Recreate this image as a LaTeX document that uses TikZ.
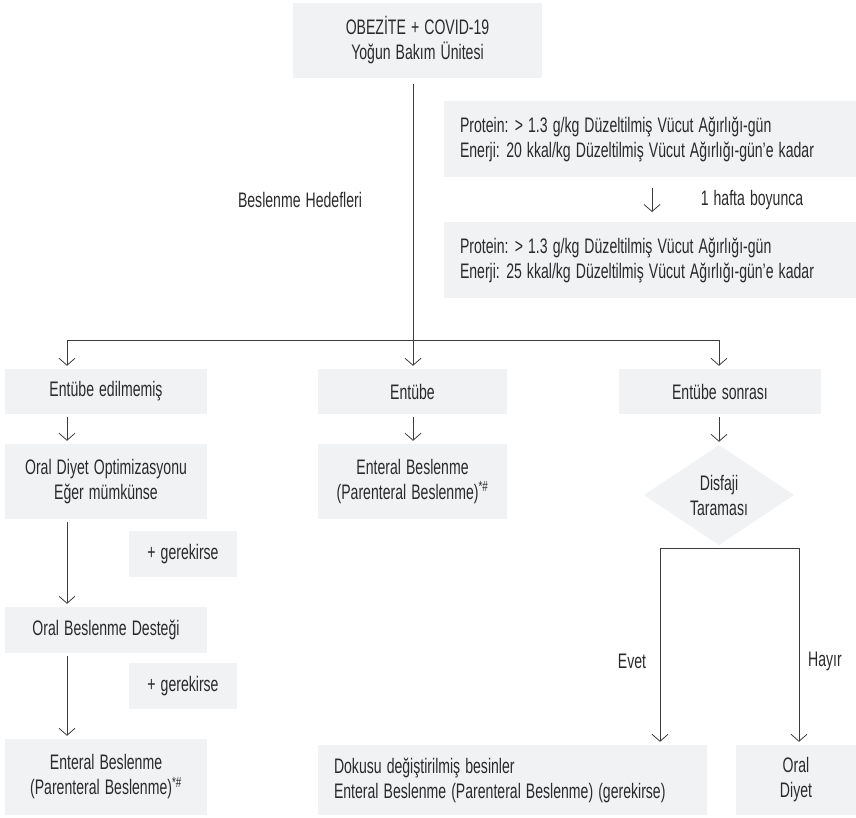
\documentclass[tikz,border=0pt]{standalone}
\usepackage{fontspec}
\setmainfont{Liberation Sans}[FakeStretch=0.67,WordSpace=1.3]
\usetikzlibrary{arrows.meta,shapes.geometric}
\definecolor{boxgray}{HTML}{F1F2F4}
\definecolor{linegray}{HTML}{3C3C3C}
\definecolor{textgray}{HTML}{2A2A2A}

\tikzset{
	box/.style={fill=boxgray, inner sep=0pt, align=center,
		font=\fontsize{21}{25}\selectfont, text=textgray},
	leftbox/.style={box, align=flush left, inner xsep=16pt},
	cond/.style={diamond, fill=boxgray, inner sep=0pt, align=center,
		minimum width=150pt, minimum height=100pt,
		font=\fontsize{21}{25}\selectfont, text=textgray},
	lbl/.style={font=\fontsize{21}{25}\selectfont, text=textgray},
	conn/.style={draw=linegray, line width=0.8pt},
	arr/.style={conn, -{Straight Barb[length=7pt,width=16pt]}, shorten >=3pt},
}

\begin{document}
\begin{tikzpicture}[x=1pt,y=-1pt]
	\useasboundingbox (0,0) rectangle (856,817);

	% top
	\node[box, minimum width=249pt, minimum height=75pt] (icu) at (417.5,40.5)
		{OBEZİTE + COVID-19\\Yoğun Bakım Ünitesi};

	% goals
	\node[leftbox, text width=380pt, minimum height=76pt] (goalA) at (650,139)
		{Protein: > 1.3 g/kg Düzeltilmiş Vücut Ağırlığı-gün\\
		 Enerji: 20 kkal/kg Düzeltilmiş Vücut Ağırlığı-gün’e kadar};
	\node[leftbox, text width=380pt, minimum height=76pt] (goalB) at (650,260)
		{Protein: > 1.3 g/kg Düzeltilmiş Vücut Ağırlığı-gün\\
		 Enerji: 25 kkal/kg Düzeltilmiş Vücut Ağırlığı-gün’e kadar};
	\coordinate (wkA) at (652,185);
	\coordinate (wkB) at (652,215);
	\node[lbl] (week) at (752,200) {1 hafta boyunca};
	\node[lbl] (goals) at (300,200) {Beslenme Hedefleri};

	% split
	\coordinate (jL) at (67,340);
	\coordinate (jM) at (413,340);
	\coordinate (jR) at (719,340);

	\node[box, minimum width=202pt, minimum height=45pt] (notint) at (106,391.5) {Entübe edilmemiş};
	\node[box, minimum width=189pt, minimum height=45pt] (intub) at (412.5,391.5) {Entübe};
	\node[box, minimum width=202pt, minimum height=45pt] (postint) at (720,391.5) {Entübe sonrası};

	% left column
	\node[box, minimum width=202pt, minimum height=75pt] (oralopt) at (106,481.5)
		{Oral Diyet Optimizasyonu\\Eğer mümkünse};
	\node[box, minimum width=108pt, minimum height=46pt] (needA) at (183,554) {+ gerekirse};
	\node[box, minimum width=202pt, minimum height=46pt] (ons) at (106,630) {Oral Beslenme Desteği};
	\node[box, minimum width=108pt, minimum height=46pt] (needB) at (183,686) {+ gerekirse};
	\node[box, minimum width=202pt, minimum height=76pt] (enL) at (106,777)
		{Enteral Beslenme\\(Parenteral Beslenme)\textsuperscript{*\#}};

	% middle column
	\node[box, minimum width=189pt, minimum height=75pt] (enM) at (412.5,481.5)
		{Enteral Beslenme\\(Parenteral Beslenme)\textsuperscript{*\#}};

	% right column
	\node[cond] (dys) at (719,495) {Disfaji\\Taraması};
	\coordinate (yesT) at (660,548);
	\coordinate (noT) at (799,548);
	\node[leftbox, text width=357pt, minimum height=70pt] (texture) at (512.5,780)
		{Dokusu değiştirilmiş besinler\\Enteral Beslenme (Parenteral Beslenme) (gerekirse)};
	\node[box, minimum width=120pt, minimum height=70pt] (oraldiet) at (796,780) {Oral\\Diyet};
	\node[lbl] (yes) at (632,661) {Evet};
	\node[lbl] (no) at (825,661) {Hayır};

	% connectors
	\draw[conn, shorten <=6pt] (icu.south -| jM) -- (jM);
	\draw[conn] (jL) -- (jR);
	\draw[arr] (jL) -- (notint.north -| jL);
	\draw[arr] (jM) -- (intub.north -| jM);
	\draw[arr] (jR) -- (postint.north -| jR);
	\draw[arr, shorten <=3pt] (wkA) -- (wkB);

	\draw[arr, shorten <=3pt] (notint.south -| jL) -- (oralopt.north -| jL);
	\draw[arr, shorten <=3pt] (oralopt.south -| jL) -- (ons.north -| jL);
	\draw[arr, shorten <=3pt] (ons.south -| jL) -- (enL.north -| jL);
	\draw[arr, shorten <=3pt] (intub.south -| jM) -- (enM.north -| jM);
	\draw[arr, shorten <=3pt] (postint.south -| jR) -- (dys.north);

	\draw[conn] (yesT) -- (noT);
	\draw[arr] (yesT) -- (texture.north -| yesT);
	\draw[arr] (noT) -- (oraldiet.north -| noT);
\end{tikzpicture}
\end{document}
